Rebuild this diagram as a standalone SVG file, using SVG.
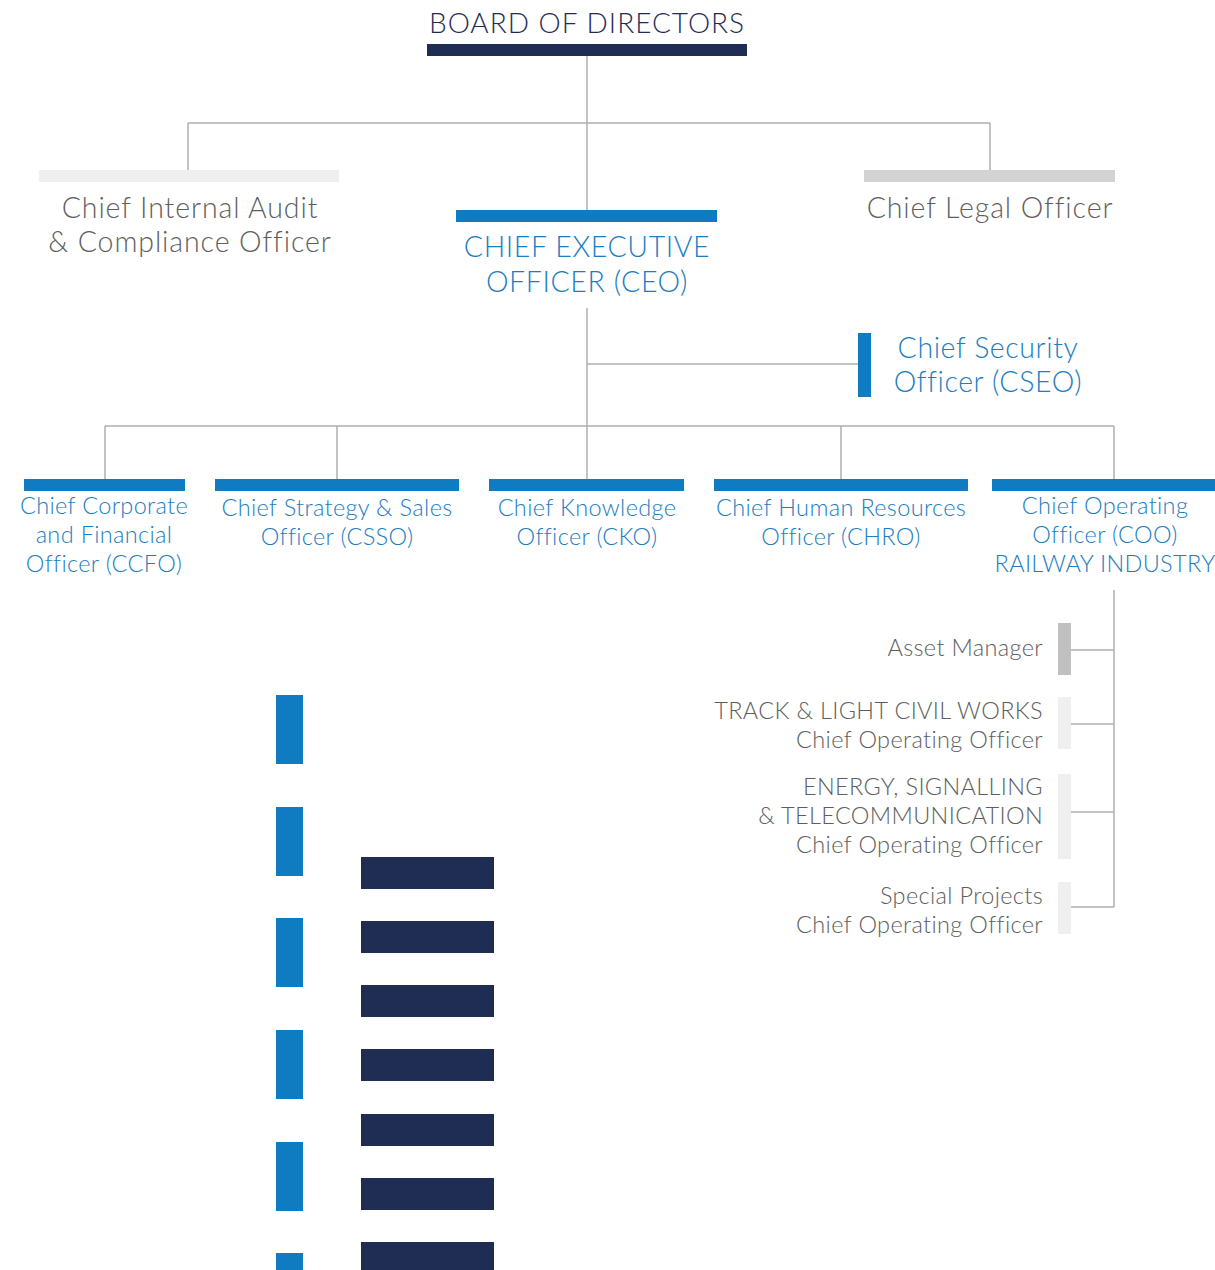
<svg xmlns="http://www.w3.org/2000/svg" width="1215" height="1270" viewBox="0 0 1215 1270">
  <style>
    text { font-family: Lato, "Noto Sans", "DejaVu Sans", sans-serif; font-weight: 300; }
    .t-navy { fill: #1f2d55; font-size: 28px; letter-spacing: 1px; }
    .t-grey { fill: #5e5e5e; font-size: 28.5px; letter-spacing: 0.9px; }
    .t-blue { fill: #1c7dc2; font-size: 28.5px; letter-spacing: 0.6px; }
    .t-blue-s { fill: #1c7dc2; font-size: 23.5px; letter-spacing: 0.35px; }
    .t-grey-s { fill: #5e5e5e; font-size: 23.5px; letter-spacing: 0.35px; }
    .c { text-anchor: middle; }
    .r { text-anchor: end; }
    .blue { fill: #0f7bc0; }
    .navy { fill: #1f2d55; }
    .conn { stroke: #b0b0b0; stroke-width: 1.5; fill: none; }
  </style>

  <!-- connectors -->
  <g id="connectors">
    <path class="conn" d="M587 56 V210 M188 123 H990 M188 123 V170 M990 123 V170"/>
    <path class="conn" d="M587 308 V426 M587 364 H858"/>
    <path class="conn" d="M105 426 H1114 M105 426 V479 M337 426 V479 M587 426 V479 M841 426 V479 M1114 426 V479"/>
    <path class="conn" d="M1114 590 V907 M1071 650 H1114 M1071 724 H1114 M1071 812 H1114 M1071 907 H1114"/>
  </g>

  <g id="board">
    <rect class="navy" x="427" y="44" width="320" height="12"/>
    <text class="t-navy c" x="587" y="33">BOARD OF DIRECTORS</text>
  </g>

  <g id="audit">
    <rect x="39" y="170" width="300" height="12" fill="#efefef"/>
    <text class="t-grey c" x="190" y="218">Chief Internal Audit</text>
    <text class="t-grey c" x="190" y="252">&amp; Compliance Officer</text>
  </g>

  <g id="legal">
    <rect x="864" y="170" width="251" height="12" fill="#d3d3d3"/>
    <text class="t-grey c" x="990" y="218">Chief Legal Officer</text>
  </g>

  <g id="ceo">
    <rect class="blue" x="456" y="210" width="261" height="12"/>
    <text class="t-blue c" x="587" y="257">CHIEF EXECUTIVE</text>
    <text class="t-blue c" x="587" y="292">OFFICER (CEO)</text>
  </g>

  <g id="cseo">
    <rect class="blue" x="858" y="333" width="13" height="64"/>
    <text class="t-blue c" x="988" y="358">Chief Security</text>
    <text class="t-blue c" x="988" y="392">Officer (CSEO)</text>
  </g>

  <g id="ccfo">
    <rect class="blue" x="24" y="479" width="161" height="12"/>
    <text class="t-blue-s c" x="104" y="514">Chief Corporate</text>
    <text class="t-blue-s c" x="104" y="543">and Financial</text>
    <text class="t-blue-s c" x="104" y="572">Officer (CCFO)</text>
  </g>

  <g id="csso">
    <rect class="blue" x="215" y="479" width="244" height="12"/>
    <text class="t-blue-s c" x="337" y="516">Chief Strategy &amp; Sales</text>
    <text class="t-blue-s c" x="337" y="545">Officer (CSSO)</text>
  </g>

  <g id="cko">
    <rect class="blue" x="489" y="479" width="195" height="12"/>
    <text class="t-blue-s c" x="587" y="516">Chief Knowledge</text>
    <text class="t-blue-s c" x="587" y="545">Officer (CKO)</text>
  </g>

  <g id="chro">
    <rect class="blue" x="714" y="479" width="254" height="12"/>
    <text class="t-blue-s c" x="841" y="516">Chief Human Resources</text>
    <text class="t-blue-s c" x="841" y="545">Officer (CHRO)</text>
  </g>

  <g id="coo">
    <rect class="blue" x="992" y="479" width="223" height="12"/>
    <text class="t-blue-s c" x="1105" y="514">Chief Operating</text>
    <text class="t-blue-s c" x="1105" y="543">Officer (COO)</text>
    <text class="t-blue-s c" x="1105" y="572">RAILWAY INDUSTRY</text>
  </g>

  <g id="asset-manager">
    <rect x="1058" y="623" width="13" height="52" fill="#c0c0c0"/>
    <text class="t-grey-s r" x="1043" y="656">Asset Manager</text>
  </g>

  <g id="track-coo">
    <rect x="1058" y="697" width="13" height="52" fill="#efefef"/>
    <text class="t-grey-s r" x="1043" y="719">TRACK &amp; LIGHT CIVIL WORKS</text>
    <text class="t-grey-s r" x="1043" y="748">Chief Operating Officer</text>
  </g>

  <g id="energy-coo">
    <rect x="1058" y="774" width="13" height="85" fill="#efefef"/>
    <text class="t-grey-s r" x="1043" y="795">ENERGY, SIGNALLING</text>
    <text class="t-grey-s r" x="1043" y="824">&amp; TELECOMMUNICATION</text>
    <text class="t-grey-s r" x="1043" y="853">Chief Operating Officer</text>
  </g>

  <g id="special-coo">
    <rect x="1058" y="882" width="13" height="52" fill="#efefef"/>
    <text class="t-grey-s r" x="1043" y="904">Special Projects</text>
    <text class="t-grey-s r" x="1043" y="933">Chief Operating Officer</text>
  </g>

  <!-- decorative legend bars -->
  <g id="blue-bars" class="blue">
    <rect x="276" y="695" width="27" height="69"/>
    <rect x="276" y="807" width="27" height="69"/>
    <rect x="276" y="918" width="27" height="69"/>
    <rect x="276" y="1030" width="27" height="69"/>
    <rect x="276" y="1142" width="27" height="69"/>
    <rect x="276" y="1253" width="27" height="69"/>
  </g>
  <g id="navy-bars" class="navy">
    <rect x="361" y="857" width="133" height="32"/>
    <rect x="361" y="921" width="133" height="32"/>
    <rect x="361" y="985" width="133" height="32"/>
    <rect x="361" y="1049" width="133" height="32"/>
    <rect x="361" y="1114" width="133" height="32"/>
    <rect x="361" y="1178" width="133" height="32"/>
    <rect x="361" y="1242" width="133" height="32"/>
  </g>
</svg>
